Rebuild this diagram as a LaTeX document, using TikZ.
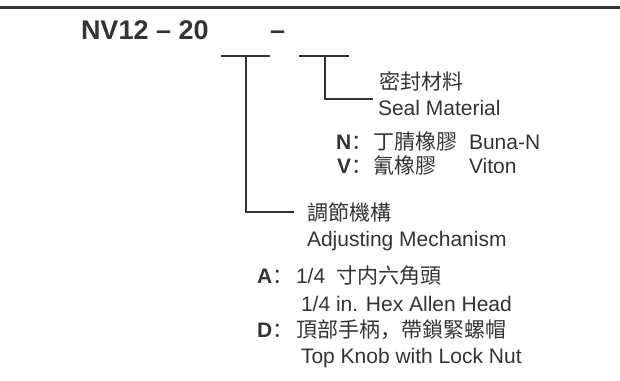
\documentclass[tikz,border=0pt]{standalone}
\usepackage{fontspec}
\setmainfont{Liberation Sans}
\newfontfamily\cjk{Noto Sans CJK TC}
\newfontfamily\cjkp{Noto Sans CJK SC}
\definecolor{ink}{HTML}{333333}
\tikzset{
  txt/.style={inner sep=0pt, outer sep=0pt, anchor=base west, text=ink},
  en/.style={txt, font=\fontsize{21}{25}\selectfont},
  zh/.style={txt, font=\fontsize{21}{25}\selectfont\cjk},
  lbl/.style={txt, font=\fontsize{21}{25}\selectfont\bfseries},
  ttl/.style={txt, font=\fontsize{27}{32}\selectfont\bfseries},
  conn/.style={draw=ink, line width=1.3pt},
  rule/.style={draw=ink, line width=2.4pt}
}
\begin{document}
\begin{tikzpicture}[x=1pt,y=-1pt]
\useasboundingbox (0,0) rectangle (620,380);
% top rule
\coordinate (rl) at (0,7.5);
\coordinate (rr) at (620,7.5);
\draw[rule] (rl) -- (rr);
% title
\node[ttl] (title) at (81,39) {NV12 – 20};
\node[ttl] (dash) at (270,39) {–};
% bars and connectors
\coordinate (b1l) at (221,56);
\coordinate (b1r) at (270,56);
\coordinate (b1m) at (246,56);
\coordinate (c1) at (294,212);
\coordinate (b2l) at (299,56);
\coordinate (b2r) at (349,56);
\coordinate (b2m) at (325,56);
\coordinate (c2) at (373,99);
\draw[conn] (b1l) -- (b1r);
\draw[conn] (b1m) |- (c1);
\draw[conn] (b2l) -- (b2r);
\draw[conn] (b2m) |- (c2);
% seal material
\node[zh] (zhSeal) at (379,89.5) {密封材料};
\node[en] (enSeal) at (378,115) {Seal Material};
\node[lbl] (nL) at (336,149.5) {N};
\node[zh] (nC) at (351,149.5) {\cjkp：};
\node[zh] (nZh) at (373,149.5) {丁腈橡膠};
\node[en] (nEn) at (469,149.5) {Buna-N};
\node[lbl] (vL) at (337,173.5) {V};
\node[zh] (vC) at (351,173.5) {\cjkp：};
\node[zh] (vZh) at (373,173.5) {氰橡膠};
\node[en] (vEn) at (469,173.5) {Viton};
% adjusting mechanism
\node[zh] (zhAdj) at (307,220) {調節機構};
\node[en] (enAdj) at (307,246) {Adjusting Mechanism};
\node[lbl] (aL) at (257,283) {A};
\node[zh] (aC) at (272,283) {\cjkp：};
\node[en] (aNum) at (296,283) {1/4};
\node[zh] (aZh) at (336,283) {寸内六角頭};
\node[en] (aEn) at (301,311) {1/4 in. Hex Allen Head};
\node[lbl] (dL) at (257,337) {D};
\node[zh] (dC) at (272,337) {\cjkp：};
\node[zh] (dZh) at (296,337) {頂部手柄{\cjkp，}帶鎖緊螺帽};
\node[en] (dEn) at (301,363) {Top Knob with Lock Nut};
\end{tikzpicture}
\end{document}
